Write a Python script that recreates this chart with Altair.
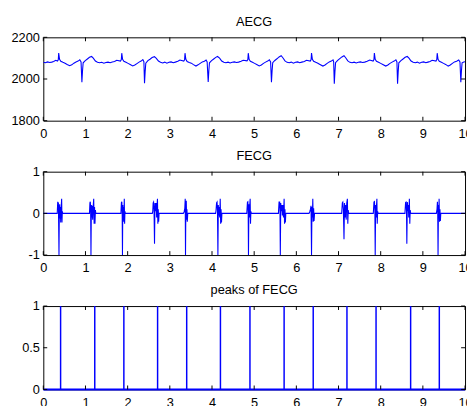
import altair as alt
import pandas as pd

# ---------------- data ----------------
AECG_T = [0.00, 0.05, 0.10, 0.15, 0.20, 0.245, 0.295, 0.335, 0.355, 0.365, 0.385, 0.415, 0.465, 0.515, 0.565,
          0.625, 0.675, 0.725, 0.775, 0.825, 0.865, 0.895, 0.915, 0.93, 0.945, 0.995, 1.045, 1.095, 1.145, 1.185,
          1.235, 1.285, 1.335, 1.385, 1.435, 1.485, 1.535, 1.585, 1.635,
          1.69, 1.74, 1.83, 1.85, 1.86, 1.88, 1.91, 1.96, 2.01, 2.06, 2.12, 2.17, 2.22, 2.27, 2.32, 2.36, 2.385,
          2.40, 2.415, 2.43, 2.48, 2.53, 2.58, 2.635, 2.68, 2.73, 2.78, 2.83, 2.88, 2.93, 2.98, 3.03, 3.08, 3.13,
          3.19, 3.24, 3.33, 3.35, 3.36, 3.38, 3.41, 3.46, 3.51, 3.56, 3.62, 3.67, 3.72, 3.77, 3.82, 3.86, 3.885,
          3.91, 3.925, 3.94, 3.99, 4.04, 4.09, 4.13, 4.18, 4.23, 4.28, 4.33, 4.38, 4.43, 4.48, 4.53, 4.58, 4.63,
          4.69, 4.74, 4.83, 4.85, 4.86, 4.88, 4.91, 4.96, 5.01, 5.06, 5.12, 5.17, 5.22, 5.27, 5.32, 5.36, 5.39,
          5.41, 5.425, 5.44, 5.49, 5.54, 5.59, 5.64, 5.68, 5.73, 5.78, 5.83, 5.88, 5.93, 5.98, 6.03, 6.08, 6.13,
          6.19, 6.24, 6.33, 6.35, 6.36, 6.38, 6.41, 6.46, 6.51, 6.56, 6.63, 6.68, 6.73, 6.78, 6.83, 6.87, 6.885,
          6.90, 6.915, 6.93, 6.98, 7.03, 7.08, 7.13, 7.17, 7.22, 7.27, 7.32, 7.37, 7.42, 7.47, 7.52, 7.57, 7.62,
          7.68, 7.74, 7.82, 7.84, 7.85, 7.87, 7.90, 7.95, 8.00, 8.05, 8.12, 8.17, 8.22, 8.27, 8.32, 8.36, 8.385,
          8.40, 8.415, 8.43, 8.48, 8.53, 8.58, 8.63, 8.67, 8.72, 8.77, 8.82, 8.87, 8.92, 8.97, 9.02, 9.07, 9.12,
          9.17, 9.22, 9.31, 9.33, 9.34, 9.36, 9.39, 9.44, 9.49, 9.54, 9.60, 9.65, 9.70, 9.75, 9.80, 9.85, 9.88,
          9.90, 9.915, 9.93, 9.97, 10.0]
AECG_V = [2080, 2078, 2082, 2079, 2081, 2084, 2090, 2086, 2092, 2125, 2095, 2085, 2080, 2076, 2070,
          2064, 2068, 2076, 2082, 2086, 2092, 2082, 1985, 2040, 2078, 2088, 2096, 2104, 2108, 2100,
          2086, 2080, 2078, 2080, 2076, 2079, 2081, 2078, 2082,
          2084, 2090, 2086, 2093, 2124, 2094, 2085, 2080, 2075, 2070, 2063, 2067, 2074, 2081, 2086, 2093, 2083,
          1980, 2035, 2076, 2088, 2095, 2103, 2107, 2099, 2086, 2080, 2077, 2081, 2076, 2080, 2082, 2078, 2081,
          2085, 2091, 2086, 2092, 2124, 2095, 2084, 2079, 2076, 2069, 2062, 2068, 2075, 2082, 2085, 2091, 2082,
          1986, 2040, 2078, 2088, 2096, 2104, 2108, 2100, 2086, 2080, 2078, 2081, 2077, 2080, 2082, 2079, 2081,
          2085, 2090, 2087, 2093, 2124, 2094, 2085, 2080, 2075, 2070, 2063, 2067, 2075, 2081, 2086, 2092, 2082,
          1985, 2040, 2078, 2089, 2097, 2106, 2112, 2102, 2087, 2080, 2078, 2081, 2076, 2080, 2082, 2078, 2081,
          2084, 2090, 2086, 2093, 2125, 2095, 2085, 2080, 2076, 2070, 2062, 2067, 2075, 2082, 2086, 2092, 2082,
          1977, 2035, 2078, 2089, 2098, 2106, 2112, 2102, 2087, 2080, 2078, 2081, 2077, 2080, 2082, 2079, 2081,
          2085, 2091, 2086, 2093, 2125, 2095, 2085, 2080, 2075, 2070, 2062, 2067, 2075, 2081, 2086, 2092, 2082,
          1977, 2035, 2078, 2088, 2096, 2104, 2108, 2100, 2086, 2080, 2078, 2081, 2076, 2080, 2082, 2078, 2081,
          2084, 2090, 2086, 2093, 2124, 2094, 2085, 2080, 2075, 2070, 2062, 2067, 2075, 2082, 2085, 2091, 2082,
          1985, 2040, 2078, 2082, 2083]

FECG_T = [0.0,
          0.330, 0.342, 0.350, 0.358, 0.372, 0.380, 0.388, 0.396, 0.404, 0.412, 0.422, 0.435, 0.443, 0.451, 0.460,
          1.095, 1.105, 1.115, 1.122, 1.130, 1.140, 1.150, 1.160, 1.170, 1.180, 1.195, 1.205, 1.215, 1.225, 1.235, 1.245,
          1.840, 1.852, 1.862, 1.870, 1.877, 1.885, 1.893, 1.902, 1.910, 1.920, 1.928, 1.936, 1.945,
          2.585, 2.595, 2.605, 2.615, 2.625, 2.637, 2.648, 2.660, 2.675, 2.688, 2.697, 2.707, 2.716, 2.726, 2.735, 2.745,
          3.320, 3.340, 3.355, 3.365, 3.372, 3.380, 3.390, 3.398, 3.406, 3.414, 3.425,
          4.085, 4.095, 4.108, 4.120, 4.130, 4.140, 4.150, 4.160, 4.172, 4.182, 4.195, 4.205, 4.215, 4.225, 4.235,
          4.825, 4.840, 4.850, 4.858, 4.865, 4.875, 4.885, 4.895, 4.905, 4.913, 4.922, 4.932,
          5.575, 5.590, 5.605, 5.612, 5.620, 5.630, 5.642, 5.655, 5.668, 5.680, 5.695, 5.710, 5.720, 5.730, 5.740, 5.750,
          6.300, 6.318, 6.335, 6.348, 6.360, 6.370, 6.380, 6.390, 6.400, 6.410, 6.420, 6.432,
          7.075, 7.090, 7.102, 7.115, 7.130, 7.142, 7.155, 7.168, 7.182, 7.195, 7.210, 7.220, 7.230, 7.240,
          7.825, 7.840, 7.852, 7.862, 7.870, 7.880, 7.890, 7.900, 7.910, 7.918, 7.928, 7.938,
          8.575, 8.590, 8.602, 8.612, 8.620, 8.632, 8.645, 8.655, 8.665, 8.680, 8.690, 8.700, 8.710,
          9.320, 9.335, 9.345, 9.352, 9.360, 9.370, 9.378, 9.385, 9.395, 9.405, 9.415, 9.425,
          10.0]
FECG_V = [0.0,
          0, 0.28, 0.20, 0.26, -1.0, 0.10, 0.22, -0.12, 0.15, -0.22, 0.10, 0.35, -0.22, 0.05, 0,
          0, 0.25, 0.28, 0.10, -1.0, 0.20, -0.10, 0.18, -0.15, 0.12, 0.35, -0.25, 0.15, -0.25, 0.08, 0,
          0, 0.26, 0.28, 0.05, -1.0, 0.20, -0.10, 0.15, -0.20, 0.35, -0.25, 0.05, 0,
          0, 0.05, 0.25, 0.27, 0.10, -0.73, 0.25, 0.05, 0.25, -0.10, 0.20, 0.35, -0.25, 0.10, -0.20, 0,
          0, 0.04, 0.12, 0.35, -1.0, 0.20, 0.30, -0.15, 0.10, -0.20, 0,
          0, 0.06, 0.25, 0.27, 0.05, -1.0, 0.20, -0.05, 0.15, -0.10, 0.35, -0.25, 0.10, -0.22, 0,
          0, 0.27, 0.28, 0.05, -1.0, 0.22, -0.10, 0.20, 0.35, -0.25, 0.05, 0,
          0, 0.27, 0.27, 0.05, -1.0, 0.25, 0.05, 0.20, -0.05, 0.20, -0.10, 0.35, -0.25, 0.10, -0.22, 0,
          0, 0.04, 0.10, 0.18, -1.0, 0.15, -0.10, 0.35, -0.20, 0.12, -0.18, 0,
          0, 0.25, 0.27, 0.10, -0.62, 0.25, -0.10, 0.20, -0.15, 0.25, 0.35, -0.25, 0.08, 0,
          0, 0.27, 0.28, 0.05, -1.0, 0.20, -0.10, 0.18, 0.35, -0.25, 0.05, 0,
          0, 0.26, 0.27, 0.05, -0.73, 0.27, 0.05, 0.20, -0.10, 0.35, -0.25, 0.08, 0,
          0, 0.10, 0.28, 0.10, -1.0, 0.20, -0.05, 0.35, -0.20, 0.10, -0.18, 0,
          0.0]

PEAK_T = [0.41, 1.22, 1.91, 2.71, 3.40, 4.20, 4.90, 5.71, 6.40, 7.20, 7.89, 8.71, 9.39]
PEAK_V = [1] * len(PEAK_T)
BASE_T = [0.0, 10.0]
BASE_V = [0, 0]

X_TICKS = list(range(0, 11))
Y1_TICKS = [1800, 2000, 2200]
Y2_TICKS = [-1, 0, 1]
Y3_TICKS = [0, 0.5, 1]

TITLES = ["AECG", "FECG", "peaks of FECG"]

# ---------------- chart ----------------
W, H = 430, 85
BLUE = "#0000ff"
FONT = "Liberation Sans"
HYPHEN = "replace(datum.label, '\u2212', '-')"

xscale = alt.Scale(domain=[0, 10], nice=False, zero=False)


def xax():
    return alt.Axis(values=X_TICKS, format="d", labelPadding=7)


def yax(ticks, fmt):
    return alt.Axis(values=ticks, format=fmt, labelExpr=HYPHEN, labelOverlap=False)


def panel(line_layers, yscale, yticks, yfmt, ttl):
    xt = pd.DataFrame({"x": X_TICKS})
    yt = pd.DataFrame({"y": yticks})
    X = alt.X("x:Q", scale=xscale, axis=xax(), title=None)
    Y = alt.Y("y:Q", scale=yscale, axis=yax(yticks, yfmt), title=None)
    top = alt.Chart(xt).mark_rule(color="black", strokeWidth=1).encode(
        x=X, y=alt.value(0), y2=alt.value(4))
    bot = alt.Chart(xt).mark_rule(color="black", strokeWidth=1).encode(
        x=X, y=alt.value(H), y2=alt.value(H - 4))
    left = alt.Chart(yt).mark_rule(color="black", strokeWidth=1).encode(
        y=Y, x=alt.value(0), x2=alt.value(4))
    right = alt.Chart(yt).mark_rule(color="black", strokeWidth=1).encode(
        y=Y, x=alt.value(W), x2=alt.value(W - 4))
    return alt.layer(*line_layers, top, bot, left, right).properties(
        width=W, height=H,
        title=alt.Title(ttl, fontSize=13, font=FONT, fontWeight="normal", color="black", offset=3),
    )


# panel 1
y1 = alt.Scale(domain=[1800, 2200], nice=False, zero=False)
d1 = pd.DataFrame({"t": AECG_T, "v": AECG_V})
line1 = alt.Chart(d1).mark_line(color=BLUE, strokeWidth=1.1, clip=True).encode(
    x=alt.X("t:Q", scale=xscale, axis=xax(), title=None),
    y=alt.Y("v:Q", scale=y1, axis=yax(Y1_TICKS, "d"), title=None),
    order="t:Q",
)
p1 = panel([line1], y1, Y1_TICKS, "d", TITLES[0])

# panel 2
y2 = alt.Scale(domain=[-1, 1], nice=False, zero=False)
d2 = pd.DataFrame({"t": FECG_T, "v": FECG_V})
line2 = alt.Chart(d2).mark_line(color=BLUE, strokeWidth=1.1, clip=True).encode(
    x=alt.X("t:Q", scale=xscale, axis=xax(), title=None),
    y=alt.Y("v:Q", scale=y2, axis=yax(Y2_TICKS, "~g"), title=None),
    order="t:Q",
)
p2 = panel([line2], y2, Y2_TICKS, "~g", TITLES[1])

# panel 3
y3 = alt.Scale(domain=[0, 1], nice=False, zero=False)
d3 = pd.DataFrame({"t": PEAK_T, "v": PEAK_V})
db = pd.DataFrame({"t": BASE_T, "v": BASE_V})
base = alt.Chart(db).mark_line(color=BLUE, strokeWidth=2).encode(
    x=alt.X("t:Q", scale=xscale, axis=xax(), title=None),
    y=alt.Y("v:Q", scale=y3, axis=yax(Y3_TICKS, "~g"), title=None),
)
peaks = alt.Chart(d3).mark_rule(color=BLUE, strokeWidth=1.5).encode(
    x=alt.X("t:Q", scale=xscale, axis=xax(), title=None),
    y=alt.Y("v:Q", scale=y3, axis=yax(Y3_TICKS, "~g"), title=None),
    y2=alt.datum(0),
)
p3 = panel([base, peaks], y3, Y3_TICKS, "~g", TITLES[2])

chart = alt.vconcat(p1, p2, p3, spacing=8).properties(
    padding={"left": 0, "top": 3, "right": -6, "bottom": -8}
).configure_view(
    stroke="black", strokeWidth=1
).configure_axis(
    labelFont=FONT, labelFontSize=13, labelColor="black",
    domain=False, ticks=False, grid=False, labelOverlap=False,
).configure_axisY(
    labelPadding=4, minExtent=35, maxExtent=35,
).configure_axisX(
    labelFlush=False,
).configure_title(
    anchor="middle"
)

chart.save("out.html", embed_options={"renderer": "svg", "actions": False})
